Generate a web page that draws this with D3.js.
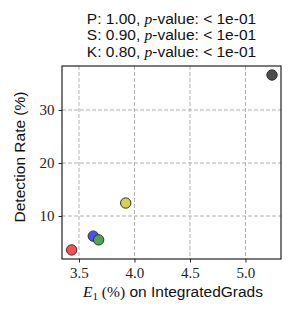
<!DOCTYPE html>
<html>
<head>
<meta charset="utf-8">
<script src="https://cdn.jsdelivr.net/npm/d3@7"></script>
<style>
body { margin: 0; background: #fff; }
svg { display: block; }
</style>
</head>
<body>
<svg id="chart" width="299" height="319"></svg>
<script>
// data
var methods = ["red", "blue", "green", "yellow", "black"];
var e1Values = [3.434, 3.629, 3.677, 3.921, 5.239];
var detectionRates = [3.6, 6.2, 5.5, 12.45, 36.6];
var pointColors = ["#ff4d4d", "#4d4dff", "#4da64d", "#d3d34d", "#4d4d4d"];
var xTicks = [3.5, 4.0, 4.5, 5.0];
var yTicks = [10, 20, 30];
var titleLines = [["P: 1.00, ", "p", "-value: < 1e-01"],
	["S: 0.90, ", "p", "-value: < 1e-01"],
	["K: 0.80, ", "p", "-value: < 1e-01"]];

var svg = d3.select("#chart");
var plotL = 62, plotR = 281, plotT = 66, plotB = 259;

var x = d3.scaleLinear().domain([3.347, 5.32]).range([plotL, plotR]);
var y = d3.scaleLinear().domain([1.89, 38.3]).range([plotB, plotT]);

var sansFont = "'Liberation Sans', 'DejaVu Sans', sans-serif";
var serifFont = "'Liberation Serif', 'DejaVu Serif', serif";

// grid
svg.append("g").selectAll("line")
	.data(xTicks)
	.enter()
	.append("line")
	.attr("x1", function (d) { return x(d); })
	.attr("x2", function (d) { return x(d); })
	.attr("y1", plotT)
	.attr("y2", plotB)
	.attr("stroke", "#b0b0b0")
	.attr("stroke-width", 1)
	.attr("stroke-dasharray", "4,2");
svg.append("g").selectAll("line")
	.data(yTicks)
	.enter()
	.append("line")
	.attr("x1", plotL)
	.attr("x2", plotR)
	.attr("y1", function (d) { return y(d); })
	.attr("y2", function (d) { return y(d); })
	.attr("stroke", "#b0b0b0")
	.attr("stroke-width", 1)
	.attr("stroke-dasharray", "4,2");

// axes
var xAxis = d3.axisBottom(x).tickValues(xTicks).tickSize(3.5).tickPadding(5)
	.tickFormat(d3.format(".1f"));
var yAxis = d3.axisLeft(y).tickValues(yTicks).tickSize(3.5).tickPadding(4)
	.tickFormat(d3.format("d"));

var gx = svg.append("g").attr("transform", "translate(0," + plotB + ")").call(xAxis);
var gy = svg.append("g").attr("transform", "translate(" + plotL + ",0)").call(yAxis);
[gx, gy].forEach(function (g) {
	g.select(".domain").remove();
	g.selectAll("line").attr("stroke", "#222").attr("stroke-width", 1);
	g.selectAll("text").attr("fill", "#222")
		.style("font-family", serifFont)
		.style("font-size", "15px");
});

// points
svg.append("g").selectAll("circle")
	.data(methods)
	.enter()
	.append("circle")
	.attr("cx", function (d, i) { return x(e1Values[i]); })
	.attr("cy", function (d, i) { return y(detectionRates[i]); })
	.attr("r", 5.2)
	.attr("fill", function (d, i) { return pointColors[i]; })
	.attr("stroke", "#333")
	.attr("stroke-width", 1);

// frame
svg.append("rect")
	.attr("x", plotL)
	.attr("y", plotT)
	.attr("width", plotR - plotL)
	.attr("height", plotB - plotT)
	.attr("fill", "none")
	.attr("stroke", "#222")
	.attr("stroke-width", 1.2);

// title
var title = svg.append("text")
	.attr("text-anchor", "middle")
	.style("font-family", sansFont)
	.style("font-size", "15.5px")
	.attr("fill", "#111");
titleLines.forEach(function (parts, i) {
	var ts = title.append("tspan")
		.attr("x", (plotL + plotR) / 2)
		.attr("y", 23.5 + i * 16.5);
	ts.append("tspan").text(parts[0]);
	ts.append("tspan").style("font-family", serifFont).style("font-style", "italic").text(parts[1]);
	ts.append("tspan").text(parts[2]);
});

// y label
svg.append("text")
	.attr("transform", "translate(25,157) rotate(-90)")
	.attr("text-anchor", "middle")
	.style("font-family", sansFont)
	.style("font-size", "15.5px")
	.attr("fill", "#111")
	.text("Detection Rate (%)");

// x label
var xl = svg.append("text")
	.attr("x", 173)
	.attr("y", 297)
	.attr("text-anchor", "middle")
	.style("font-family", sansFont)
	.style("font-size", "15.5px")
	.attr("fill", "#111");
xl.append("tspan").style("font-family", serifFont).style("font-style", "italic").text("E");
xl.append("tspan").style("font-family", serifFont).style("font-size", "11px").attr("dy", 3).text("1");
xl.append("tspan").style("font-family", serifFont).attr("dy", -3).text(" (%)");
xl.append("tspan").text(" on IntegratedGrads");
</script>
</body>
</html>
